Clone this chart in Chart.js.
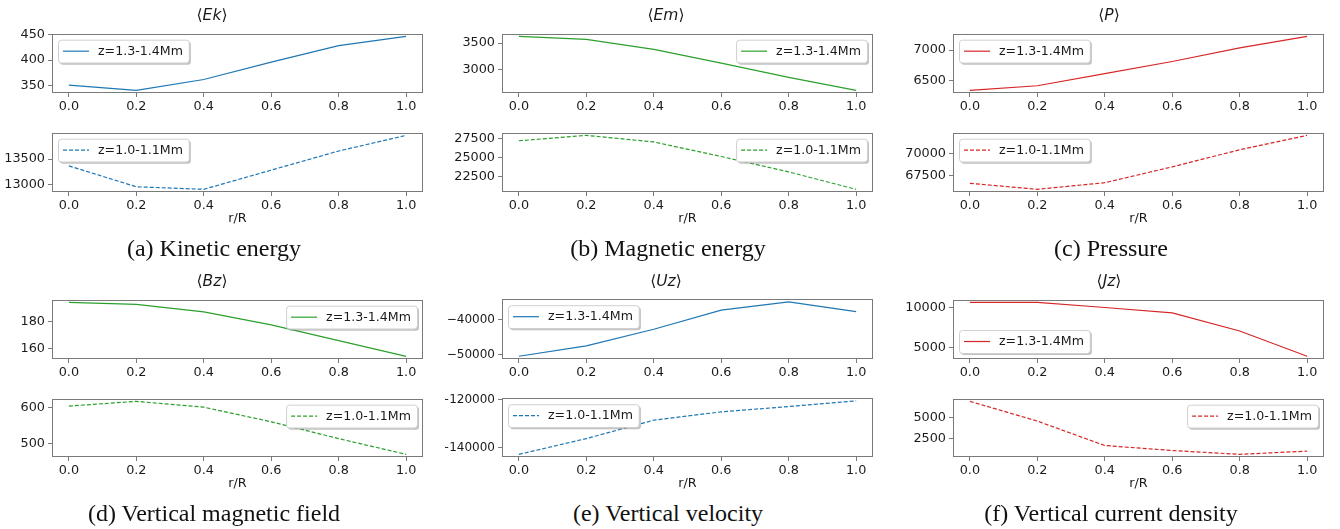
<!DOCTYPE html>
<html>
<head>
<meta charset="utf-8">
<script src="https://cdn.jsdelivr.net/npm/chart.js@4"></script>
<style>
  body{margin:0;background:#fff;width:1340px;height:529px;position:relative;overflow:hidden;font-family:"DejaVu Sans",sans-serif;}
  canvas{position:absolute;}
  .ttl{position:absolute;font-size:15.5px;color:#1a1a1a;transform:translate(-50%,-50%);white-space:nowrap;}
  .xl{position:absolute;font-size:12.8px;color:#1a1a1a;transform:translate(-50%,-50%);white-space:nowrap;}
  .cap{position:absolute;font-family:"Liberation Serif",serif;font-size:24px;color:#111;transform:translate(-50%,-50%);white-space:nowrap;}
</style>
</head>
<body>
<script>
// Data
const rR = [0, 0.2, 0.4, 0.6, 0.8, 1.0];

const ekTop = [351, 341, 362, 396, 428, 446];
const ekBot = [13365, 12950, 12900, 13280, 13660, 13970];
const emTop = [3625, 3568, 3381, 3125, 2858, 2614];
const emBot = [27185, 27894, 27028, 25118, 23091, 20806];
const pTop = [6335, 6410, 6610, 6810, 7035, 7225];
const pBot = [66575, 65890, 66644, 68459, 70411, 72055];
const bzTop = [194.5, 193, 187.3, 177.5, 165.7, 153.9];
const bzBot = [603, 616, 600, 560, 514, 471];
const uzTop = [-50526, -47544, -42719, -37193, -34825, -37632];
const uzBot = [-142840, -136296, -128642, -125185, -122963, -120617];
const jzTop = [10644, 10644, 10000, 9318, 7045, 3864];
const jzBot = [6910, 4583, 1701, 1111, 660, 1042];

const ekTopTicks = [350, 400, 450], ekBotTicks = [13000, 13500];
const emTopTicks = [3000, 3500], emBotTicks = [22500, 25000, 27500];
const pTopTicks = [6500, 7000], pBotTicks = [67500, 70000];
const bzTopTicks = [160, 180], bzBotTicks = [500, 600];
const uzTopTicks = [-50000, -40000], uzBotTicks = [-140000, -120000];
const jzTopTicks = [5000, 10000], jzBotTicks = [2500, 5000];

const labTop = 'z=1.3-1.4Mm', labBot = 'z=1.0-1.1Mm';
const titles = ['Ek', 'Em', 'P', 'Bz', 'Uz', 'Jz'];
const captions = ['(a) Kinetic energy', '(b) Magnetic energy', '(c) Pressure',
  '(d) Vertical magnetic field', '(e) Vertical velocity', '(f) Vertical current density'];

const BLUE = '#1f77b4', GREEN = '#2ca02c', RED = '#d62728';

// Layout
const cols = [
  {x0: 0, l: 52, r: 423, tc: 212},
  {x0: 445, l: 502, r: 873, tc: 666},
  {x0: 890, l: 953, r: 1324, tc: 1109}
];
const rows = [
  {top: [27, 93], bot: [126, 192], ty: 15, xly: 217, cy: 248},
  {top: [293, 359], bot: [392, 457], ty: 281, xly: 482, cy: 513}
];

const panels = [
  {c: 0, r: 0, color: BLUE, top: ekTop, bot: ekBot, tt: ekTopTicks, bt: ekBotTicks, tl: 'ul', bl: 'ul'},
  {c: 1, r: 0, color: GREEN, top: emTop, bot: emBot, tt: emTopTicks, bt: emBotTicks, tl: 'ur', bl: 'ur'},
  {c: 2, r: 0, color: RED, top: pTop, bot: pBot, tt: pTopTicks, bt: pBotTicks, tl: 'ul', bl: 'ul'},
  {c: 0, r: 1, color: GREEN, top: bzTop, bot: bzBot, tt: bzTopTicks, bt: bzBotTicks, tl: 'ur', bl: 'ur'},
  {c: 1, r: 1, color: BLUE, top: uzTop, bot: uzBot, tt: uzTopTicks, bt: uzBotTicks, tl: 'ul', bl: 'ul', fs: 12},
  {c: 2, r: 1, color: RED, top: jzTop, bot: jzBot, tt: jzTopTicks, bt: jzBotTicks, tl: 'll', bl: 'ur'}
];

const FONT = "'DejaVu Sans'";
const SPINE = '#7a7a7a';

// frame + in-axes legend
const framePlugin = {
  id: 'frame',
  afterDraw(chart) {
    const a = chart.chartArea, ctx = chart.ctx;
    ctx.save();
    ctx.strokeStyle = SPINE; ctx.lineWidth = 1;
    ctx.strokeRect(Math.round(a.left) + 0.5, Math.round(a.top) + 0.5,
      Math.round(a.right - a.left) - 1, Math.round(a.bottom - a.top) - 1);

    const ds = chart.data.datasets[0];
    const loc = chart.options.plugins.frame.loc;
    const fs = chart.options.plugins.frame.fs;
    ctx.font = fs + 'px ' + FONT;
    const tw = ctx.measureText(ds.label).width;
    const w = 5 + 26 + 9 + tw + 6, h = 23;
    const bx = loc === 'ur' ? a.right - 6 - w : a.left + 6;
    const by = loc === 'll' ? a.bottom - 6 - h : a.top + 6;
    const rr = (x, y) => { ctx.beginPath(); ctx.roundRect(x, y, w, h, 3); };
    ctx.fillStyle = 'rgba(120,120,120,0.45)';
    rr(bx + 2, by + 2); ctx.fill();
    ctx.fillStyle = '#fff';
    rr(bx, by); ctx.fill();
    ctx.strokeStyle = '#d0d0d0'; ctx.lineWidth = 1;
    rr(bx + 0.5, by + 0.5); ctx.stroke();
    ctx.strokeStyle = ds.borderColor; ctx.lineWidth = ds.borderWidth;
    ctx.setLineDash(ds.borderDash || []);
    ctx.beginPath(); ctx.moveTo(bx + 5, by + h / 2); ctx.lineTo(bx + 31, by + h / 2); ctx.stroke();
    ctx.setLineDash([]);
    ctx.fillStyle = '#1a1a1a'; ctx.textBaseline = 'middle';
    ctx.fillText(ds.label, bx + 40, by + h / 2 + 0.5);
    ctx.restore();
  }
};

function fmtY(v) {
  return v < 0 ? '\u2212' + Math.abs(v) : String(v);
}

function makeChart(p, which) {
  const col = cols[p.c], row = rows[p.r];
  const span = which === 'top' ? row.top : row.bot;
  const vals = which === 'top' ? p.top : p.bot;
  const ticks = which === 'top' ? p.tt : p.bt;
  const loc = which === 'top' ? p.tl : p.bl;
  const fs = p.fs || 12.8;
  const padTop = 4, xh = 22, padR = 16;
  const cv = document.createElement('canvas');
  const W = col.r + padR - col.x0, H = span[1] - span[0] + padTop + xh;
  cv.width = W; cv.height = H;
  cv.style.left = col.x0 + 'px'; cv.style.top = (span[0] - padTop) + 'px';
  cv.style.width = W + 'px'; cv.style.height = H + 'px';
  document.body.appendChild(cv);

  const lo = Math.min(...vals), hi = Math.max(...vals), m = (hi - lo) * 0.05;
  const tickFont = {family: FONT, size: fs};

  new Chart(cv, {
    type: 'line',
    data: {
      datasets: [{
        label: which === 'top' ? labTop : labBot,
        data: rR.map((x, i) => ({x: x, y: vals[i]})),
        borderColor: p.color, borderWidth: 1.2,
        borderDash: which === 'top' ? [] : [4, 2],
        pointRadius: 0, tension: 0, fill: false
      }]
    },
    options: {
      responsive: false, animation: false, devicePixelRatio: 1,
      layout: {padding: {top: padTop, right: padR, left: 0, bottom: 0}},
      plugins: {legend: {display: false}, tooltip: {enabled: false}, frame: {loc: loc, fs: 12.6}},
      scales: {
        x: {
          type: 'linear', min: -0.05, max: 1.05,
          afterBuildTicks: s => { s.ticks = rR.map(v => ({value: v})); },
          afterFit: s => { s.height = xh; },
          grid: {drawOnChartArea: false, drawTicks: true, tickLength: 4, color: SPINE},
          border: {display: false},
          ticks: {font: {family: FONT, size: 12.8}, color: '#1a1a1a', padding: 2, maxRotation: 0,
            callback: v => Number(v).toFixed(1)}
        },
        y: {
          type: 'linear', min: lo - m, max: hi + m,
          afterBuildTicks: s => { s.ticks = ticks.map(v => ({value: v})); },
          afterFit: s => { s.width = col.l - col.x0; },
          grid: {drawOnChartArea: false, drawTicks: true, tickLength: 4, color: SPINE},
          border: {display: false},
          ticks: {font: tickFont, color: '#1a1a1a', padding: 3, callback: v => fmtY(v)}
        }
      }
    },
    plugins: [framePlugin]
  });
}

function addText(cls, html, x, y) {
  const d = document.createElement('div');
  d.className = cls; d.innerHTML = html;
  d.style.left = x + 'px'; d.style.top = y + 'px';
  document.body.appendChild(d);
}

panels.forEach((p, i) => {
  makeChart(p, 'top');
  makeChart(p, 'bot');
  const col = cols[p.c], row = rows[p.r];
  addText('ttl', '\u27e8<i>' + titles[i] + '</i>\u27e9', col.tc, row.ty);
  addText('xl', 'r/R', (col.l + col.r) / 2, row.xly);
  addText('cap', captions[i], col.tc + 2, row.cy);
});
</script>
</body>
</html>
